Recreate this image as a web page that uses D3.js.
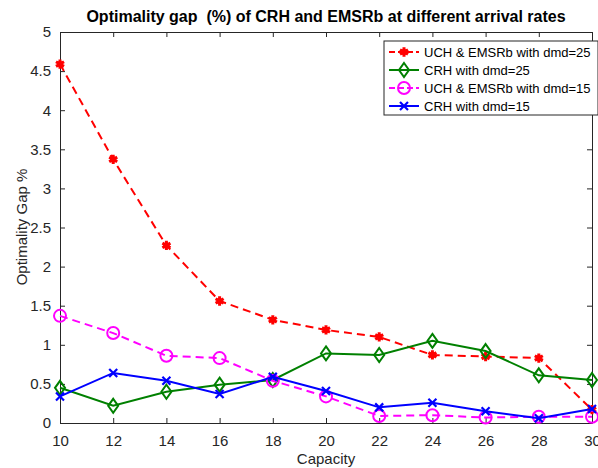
<!DOCTYPE html>
<html>
<head>
<meta charset="utf-8">
<script src="https://cdn.jsdelivr.net/npm/d3@7"></script>
<style>
  body { margin: 0; background: #fff; }
  svg { font-family: "Liberation Sans", Arial, sans-serif; }
</style>
</head>
<body>
<svg width="598" height="468"></svg>
<script>
// capacities on the x axis
var capacity = [10, 12, 14, 16, 18, 20, 22, 24, 26, 28, 30];

// optimality gap (%) per series
var uchDmd25 = [4.59, 3.37, 2.27, 1.56, 1.32, 1.19, 1.10, 0.87, 0.85, 0.83, 0.17];
var crhDmd25 = [0.45, 0.22, 0.40, 0.49, 0.55, 0.89, 0.87, 1.05, 0.92, 0.61, 0.55];
var uchDmd15 = [1.37, 1.15, 0.86, 0.83, 0.54, 0.34, 0.09, 0.10, 0.07, 0.08, 0.08];
var crhDmd15 = [0.34, 0.64, 0.54, 0.37, 0.59, 0.41, 0.20, 0.26, 0.15, 0.06, 0.18];

var xTicks = [10, 12, 14, 16, 18, 20, 22, 24, 26, 28, 30];
var yTicks = [0, 0.5, 1, 1.5, 2, 2.5, 3, 3.5, 4, 4.5, 5];

var seriesNames = ["UCH & EMSRb with dmd=25", "CRH with dmd=25", "UCH & EMSRb with dmd=15", "CRH with dmd=15"];

var series = [
    { name: seriesNames[0], values: uchDmd25, color: "#ff0000", dash: "8,5", marker: "star" },
    { name: seriesNames[1], values: crhDmd25, color: "#008000", dash: null, marker: "diamond" },
    { name: seriesNames[2], values: uchDmd15, color: "#ff00ff", dash: "8,5", marker: "circle" },
    { name: seriesNames[3], values: crhDmd15, color: "#0000ff", dash: null, marker: "cross" }
];

var svg = d3.select("svg"),
    margin = { top: 32, right: 6, bottom: 45, left: 60 },
    width = +svg.attr("width") - margin.left - margin.right,
    height = +svg.attr("height") - margin.top - margin.bottom,
    g = svg.append("g").attr("transform", "translate(" + margin.left + "," + margin.top + ")");

var x = d3.scaleLinear().domain([10, 30]).range([0, 532]);
var y = d3.scaleLinear().domain([0, 5]).range([391, 0]);
var axisColor = "#262626";

// box with ticks on all sides, MATLAB style
function styleAxis(sel) {
    sel.select(".domain").attr("stroke", axisColor).attr("stroke-width", 1);
    sel.selectAll(".tick line").attr("stroke", axisColor);
    sel.selectAll(".tick text").attr("fill", axisColor).style("font-size", "15px");
}

g.append("g")
    .attr("transform", "translate(0," + 391 + ")")
    .call(d3.axisBottom(x).tickValues(xTicks).tickSize(-5).tickSizeOuter(0).tickPadding(12))
    .call(styleAxis);

g.append("g")
    .call(d3.axisLeft(y).tickValues(yTicks).tickFormat(d3.format("")).tickSize(-5).tickSizeOuter(0).tickPadding(9))
    .call(styleAxis);

g.append("g")
    .call(d3.axisTop(x).tickValues(xTicks).tickSize(-5).tickSizeOuter(0).tickFormat(""))
    .call(styleAxis);

g.append("g")
    .attr("transform", "translate(532,0)")
    .call(d3.axisRight(y).tickValues(yTicks).tickSize(-5).tickSizeOuter(0).tickFormat(""))
    .call(styleAxis);

// marker drawer
function drawMarker(sel, type, color) {
    if (type === "star") {
        sel.append("path")
            .attr("d", d3.symbol().type(d3.symbolAsterisk).size(60))
            .attr("fill", "none").attr("stroke", color).attr("stroke-width", 3);
        sel.append("circle").attr("r", 3).attr("fill", color);
    } else if (type === "diamond") {
        sel.append("path")
            .attr("d", "M0,-7L5,0L0,7L-5,0Z")
            .attr("fill", "none").attr("stroke", color).attr("stroke-width", 2);
    } else if (type === "circle") {
        sel.append("circle").attr("r", 6)
            .attr("fill", "none").attr("stroke", color).attr("stroke-width", 2);
    } else {
        sel.append("path")
            .attr("d", "M-4,-4L4,4M-4,4L4,-4")
            .attr("fill", "none").attr("stroke", color).attr("stroke-width", 2.2);
    }
}

var line = d3.line()
    .x(function (d, i) { return x(capacity[i]); })
    .y(function (d) { return y(d); });

series.forEach(function (s) {
    g.append("path")
        .datum(s.values)
        .attr("fill", "none")
        .attr("stroke", s.color)
        .attr("stroke-width", 2)
        .attr("stroke-dasharray", s.dash)
        .attr("d", line);

    g.selectAll(null)
        .data(s.values)
        .enter().append("g")
        .attr("transform", function (d, i) { return "translate(" + x(capacity[i]) + "," + y(d) + ")"; })
        .each(function () { drawMarker(d3.select(this), s.marker, s.color); });
});

// legend
var legend = svg.append("g").attr("transform", "translate(384,41)");
legend.append("rect")
    .attr("width", 214).attr("height", 74)
    .attr("fill", "#fff").attr("stroke", axisColor).attr("stroke-width", 1);

series.forEach(function (s, i) {
    var row = legend.append("g").attr("transform", "translate(0," + (11 + i * 18) + ")");
    row.append("line")
        .attr("x1", 5).attr("x2", 35)
        .attr("stroke", s.color).attr("stroke-width", 2)
        .attr("stroke-dasharray", s.dash ? "6,3" : null);
    drawMarker(row.append("g").attr("transform", "translate(20,0)"), s.marker, s.color);
    row.append("text")
        .attr("x", 40).attr("y", 5)
        .attr("fill", "#000")
        .style("font-size", "13px")
        .text(s.name);
});

// title and axis labels
svg.append("text")
    .attr("x", 326).attr("y", 22)
    .attr("text-anchor", "middle")
    .style("font-size", "16px").style("font-weight", "bold")
    .style("white-space", "pre")
    .attr("fill", "#000")
    .text("Optimality gap  (%) of CRH and EMSRb at different arrival rates");

svg.append("text")
    .attr("x", 326).attr("y", 464)
    .attr("text-anchor", "middle")
    .style("font-size", "15px")
    .attr("fill", axisColor)
    .text("Capacity");

svg.append("text")
    .attr("transform", "translate(27,227) rotate(-90)")
    .attr("text-anchor", "middle")
    .style("font-size", "15px")
    .attr("fill", axisColor)
    .text("Optimality Gap %");
</script>
</body>
</html>
